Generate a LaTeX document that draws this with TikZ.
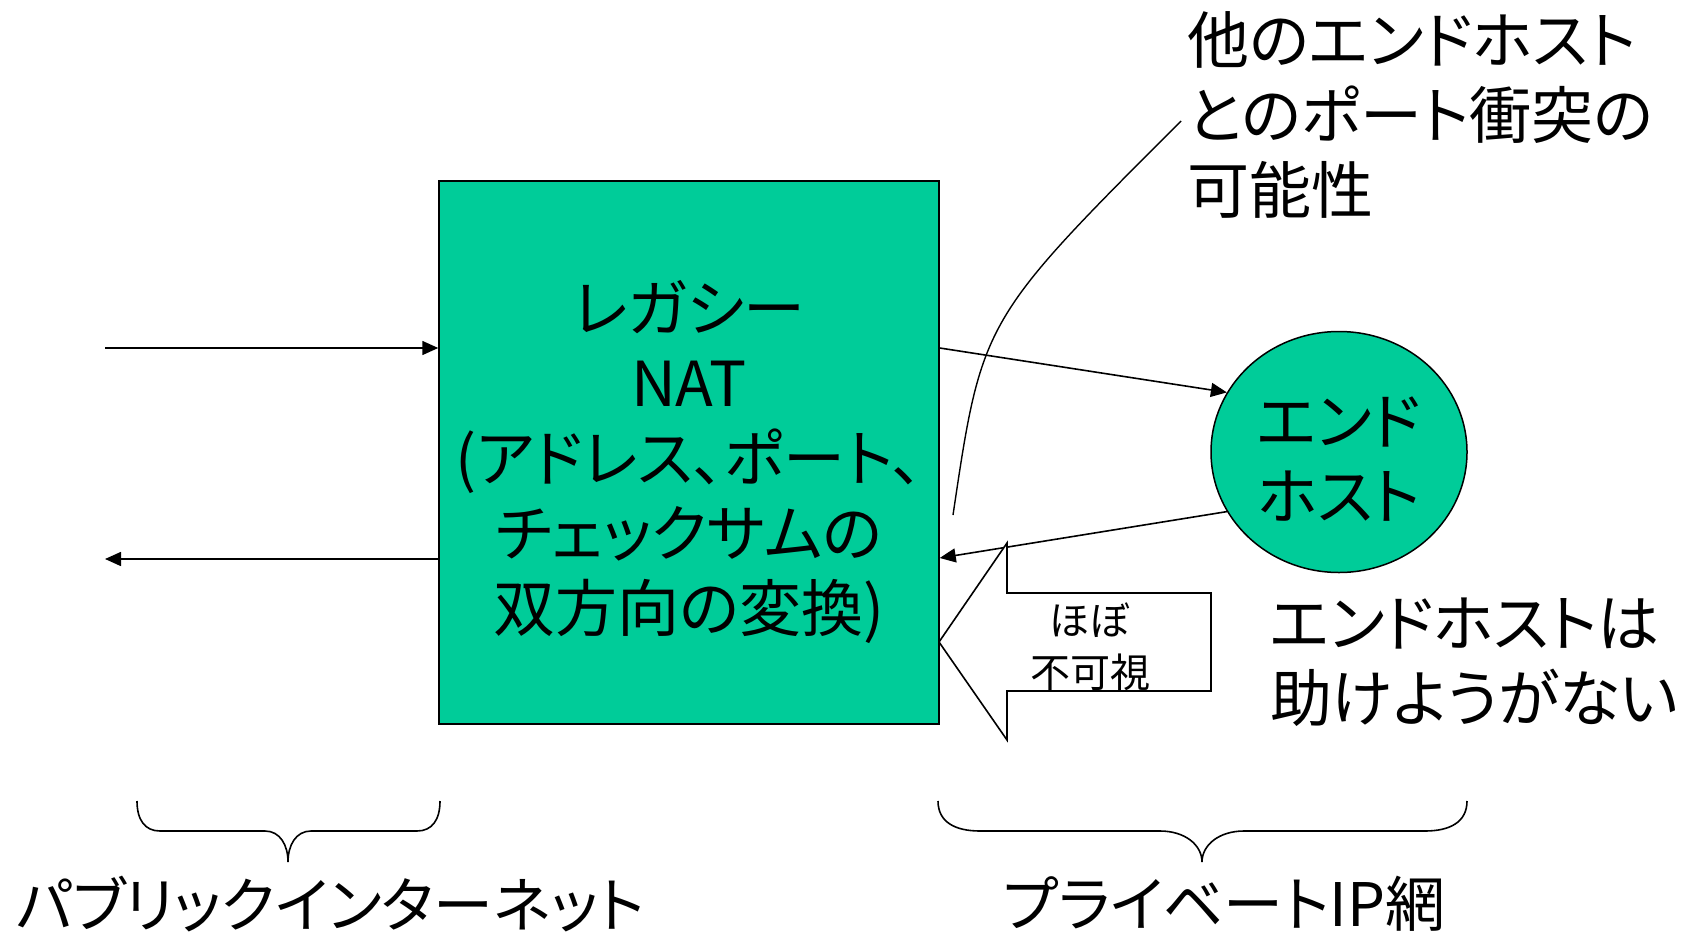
\documentclass[tikz,border=0pt]{standalone}
\usepackage{fontspec}
\setmainfont{Noto Sans CJK JP}[RawFeature={+palt}]
\usetikzlibrary{arrows.meta,shapes.geometric}
\definecolor{natgreen}{HTML}{00CC99}
\begin{document}
\begin{tikzpicture}[x=1pt,y=-1pt,
  arr/.style={line width=1.6pt,-{Triangle[length=16pt,width=14pt]}},
  big/.style={font=\fontsize{62}{75}\selectfont, inner sep=0pt},
  bottomtxt/.style={font=\fontsize{60}{72}\selectfont, inner sep=0pt},
  small/.style={font=\fontsize{40}{52}\selectfont, inner sep=0pt},
  ln/.style={line width=1.6pt},
  greenbox/.style={draw, line width=1.5pt, fill=natgreen, inner sep=0pt}]
\useasboundingbox (0,0) rectangle (1688,939);
\node[greenbox, minimum width=500pt, minimum height=543pt] (nat) at (689,452.5) {};
\node[big, align=center] (natt) at ([yshift=-10pt]nat.center)
  {レガシー\\NAT\\(アドレス、ポート、\\チェックサムの\\双方向の変換)};
\node[greenbox, ellipse, minimum width=256pt, minimum height=241pt] (eh) at (1339,452) {};
\node[big, align=center] (eht) at ([yshift=-7pt]eh.center) {エンド\\ホスト};
\coordinate (inL) at (105,348);
\coordinate (outL) at (105,559);
\coordinate (retY) at (0,558);
\draw[arr] (inL) -- (inL -| nat.west);
\draw[arr] (outL -| nat.west) -- (outL);
\draw[arr] (nat.east |- inL) -- (eh.152.6);
\draw[arr] (eh.208.5) -- (nat.east |- retY);
% callout curve
\coordinate (cS) at (953,515);
\coordinate (cE) at (1181,121);
\draw[line width=1.4pt] (cS) .. controls (982,320) .. (cE);
\node[big, anchor=west, align=left] (conf) at (1187,115) {他のエンドホスト\\とのポート衝突の\\可能性};
% block arrow
\draw[ln, fill=white] (939,642) -- (1007,543) -- (1007,593) -- (1211,593) -- (1211,691) -- (1007,691) -- (1007,740) -- cycle;
\node[small, align=center] (inv) at (1090,647) {ほぼ\\不可視};
\node[big, anchor=west, align=left] (help) at (1270,662) {エンドホストは\\助けようがない};
% braces
\draw[ln] (137,801) .. controls (137,820) and (145,831) .. (160,831) -- (265,831)
  .. controls (280,831) and (288,845) .. (288,862)
  .. controls (288,845) and (296,831) .. (311,831) -- (417,831)
  .. controls (432,831) and (440,820) .. (440,801);
\draw[ln] (938,801) .. controls (938,822) and (955,831) .. (980,831) -- (1160,831)
  .. controls (1185,831) and (1202,845) .. (1202,862)
  .. controls (1202,845) and (1219,831) .. (1244,831) -- (1425,831)
  .. controls (1450,831) and (1467,822) .. (1467,801);
\node[bottomtxt, anchor=west] (pub) at (16,904) {パブリックインターネット};
\node[bottomtxt, anchor=west] (priv) at (1003,904) {プライベートIP網};
\end{tikzpicture}
\end{document}
